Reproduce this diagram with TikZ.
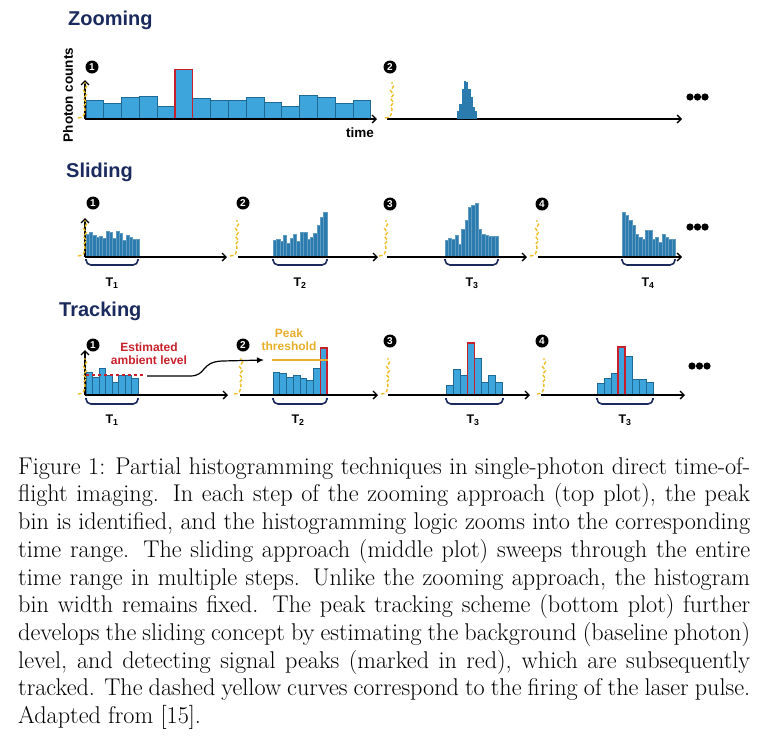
\documentclass[tikz,border=0pt]{standalone}
\usepackage{fontspec}
\newfontfamily\arialfont{Liberation Sans}
\usepackage{tikz}
\usetikzlibrary{arrows.meta}
\usetikzlibrary{decorations.pathmorphing}

\definecolor{navy}{HTML}{1B2A5E}
\definecolor{barblue}{HTML}{3DA5DB}
\definecolor{baredge}{HTML}{1F6A94}
\definecolor{histblue}{HTML}{2B7BAE}
\definecolor{peakred}{HTML}{C8202A}
\definecolor{pulseyellow}{HTML}{F0BE28}
\definecolor{threshyellow}{HTML}{E6AE2A}

% laser pulse: x position, baseline
\newcommand{\laser}[2]{%
  \draw[pulse] (#1-7,#2) .. controls (#1-2,#2) and (#1,#2-3) .. (#1,#2-9)
    decorate[decoration={snake,amplitude=1.5pt,segment length=8pt}] {-- (#1,#2-36)};}

\begin{document}
\begin{tikzpicture}[x=1pt,y=-1pt,
  >={Straight Barb[length=4pt,width=8pt]},
  axis/.style={line width=1.3pt,->},
  bar/.style={fill=barblue,draw=baredge,line width=0.9pt},
  redbar/.style={draw=peakred,line width=1.3pt},
  slidebar/.style={fill=histblue,draw=histblue!75!white,line width=0.3pt},
  pulse/.style={draw=pulseyellow,line width=1.4pt,dash pattern=on 3.5pt off 2pt},
  numdot/.style={circle,fill=black,text=white,inner sep=0pt,minimum size=13pt,
    font=\arialfont\bfseries\fontsize{10}{10}\selectfont},
  title/.style={anchor=west,inner sep=0pt,text=navy,
    font=\arialfont\bfseries\fontsize{20}{20}\selectfont},
  lbl/.style={inner sep=0pt,font=\arialfont\bfseries\fontsize{13.5}{13.5}\selectfont},
  tlbl/.style={inner sep=0pt,font=\arialfont\bfseries\fontsize{12.5}{12.5}\selectfont},
  note/.style={inner sep=0pt,align=center,font=\arialfont\bfseries\fontsize{12}{13}\selectfont},
  brace/.style={draw=navy,line width=1.6pt,rounded corners=5pt}
]
\useasboundingbox (0,0) rectangle (768,740);

%% Zooming
\node[title] (ztitle) at (68,20) {Zooming};
\node[numdot] (z1) at (92,67) {1};
\node[numdot] (z2) at (390,67) {2};
\node[lbl,rotate=90] (zcounts) at (68,95) {Photon counts};
\node[lbl] (ztime) at (360,133) {time};
\foreach \h [count=\i from 0] in {19,15.7,21.3,23,13,49.7,20.7,19,19,21.3,16.3,13,23.3,21.3,15.7,18.3}
  \draw[bar] (86+\i*17.8,119) rectangle ++(17.8,-\h);
\draw[redbar] (86+5*17.8,119) rectangle ++(17.8,-49.7);
\coordinate (zo) at (85,119);
\draw[axis] (zo) -- (377,119);
\draw[axis] (zo) -- (85,80);
\draw[axis] (387,119) -- (682,119);
\foreach \h [count=\i from 0] in {8,15,30,38,37,30,22,12,8}
  \fill[histblue] (457+\i*2.25,119) rectangle ++(2.3,-\h);
\laser{85}{118}
\laser{392}{118}
\foreach \x in {690,697.5,705} \fill (\x,97) circle (3.6);

%% Sliding
\node[title] (stitle) at (66,172) {Sliding};
\node[numdot] (s1) at (93,203) {1};
\node[numdot] (s2) at (243,203) {2};
\node[numdot] (s3) at (390,204) {3};
\node[numdot] (s4) at (542,204) {4};
\foreach \h [count=\i from 0] in {23,25,22,20,21,19,26,25,19,26,24,17,22,20,18,18}
  \draw[slidebar] (86+\i*3.31,257) rectangle ++(3.31,-\h);
\foreach \h [count=\i from 0] in {17,18,16,22,14,19,23,16,25,25,18,20,24,32,40,45}
  \draw[slidebar] (273+\i*3.37,257) rectangle ++(3.37,-\h);
\foreach \h [count=\i from 0] in {17,19,18,22,13,28,37,50,52,54,28,23,22,21,21,21}
  \draw[slidebar] (445+\i*3.31,257) rectangle ++(3.31,-\h);
\foreach \h [count=\i from 0] in {45,42,37,32,23,20,18,27,27,18,20,15,23,20,18,18}
  \draw[slidebar] (622+\i*3.31,257) rectangle ++(3.31,-\h);
\coordinate (so) at (85,257);
\draw[axis] (so) -- (227,257);
\draw[axis] (so) -- (85,218);
\draw[axis] (238,257) -- (378,257);
\draw[axis] (387,257) -- (527,257);
\draw[axis] (538,257) -- (682,257);
\laser{85}{256}
\laser{237}{256}
\laser{386}{256}
\laser{537}{256}
\foreach \a/\b in {86/138,273/327,445/498,622/675}
  \draw[brace] (\a,259) -- (\a,265) -- (\b,265) -- (\b,259);
\node[tlbl] (st1) at (112,283) {T\textsubscript{1}};
\node[tlbl] (st2) at (300,283) {T\textsubscript{2}};
\node[tlbl] (st3) at (472,283) {T\textsubscript{3}};
\node[tlbl] (st4) at (648,283) {T\textsubscript{4}};
\foreach \x in {690,697.5,705} \fill (\x,227) circle (3.6);

%% Tracking
\node[title] (ttitle) at (59,311) {Tracking};
\node[numdot] (t1) at (93,345) {1};
\node[numdot] (t2) at (243,345) {2};
\node[numdot] (t3) at (390,341) {3};
\node[numdot] (t4) at (542,341) {4};
\foreach \h [count=\i from 0] in {23,18,27,20,13,20,20,17}
  \draw[bar] (86+\i*6.5,395) rectangle ++(6.5,-\h);
\foreach \h [count=\i from 0] in {23,22,18,20,17,15,27,47}
  \draw[bar] (273+\i*6.75,395) rectangle ++(6.75,-\h);
\draw[redbar] (273+7*6.75,395) rectangle ++(6.75,-47);
\foreach \h [count=\i from 0] in {10,26,20,52,37,13,20,13}
  \draw[bar] (446+\i*7.1,395) rectangle ++(7.1,-\h);
\draw[redbar] (446+3*7.1,395) rectangle ++(7.1,-52);
\foreach \h [count=\i from 0] in {12,17,22,48,39,16,16,13}
  \draw[bar] (597+\i*7,395) rectangle ++(7,-\h);
\draw[redbar] (597+3*7,395) rectangle ++(7,-48);
\coordinate (to) at (85,395);
\draw[axis] (to) -- (228,395);
\draw[axis] (to) -- (85,350);
\draw[axis] (240,395) -- (378,395);
\draw[axis] (388,395) -- (530,395);
\draw[axis] (541,395) -- (685,395);
\laser{85}{394}
\laser{241}{394}
\laser{388}{394}
\laser{544}{394}
\draw[peakred,line width=1.5pt,dashed] (86,375) -- (145,375);
\node[note,text=peakred] (amb) at (149,353.5) {Estimated\\ambient level};
\coordinate (ambend) at (147,376);
\coordinate (thr) at (264,360);
\draw[line width=1.2pt,-{Latex[length=7pt,width=6pt]}] (ambend) -- (190,376)
  .. controls (207,376) and (200,362) .. (222,361) -- (thr);
\node[note,text=threshyellow] (pk) at (289,339.5) {Peak\\threshold};
\draw[threshyellow,line width=1.5pt] (272,360) -- (328,360);
\foreach \a/\b in {86/138,273/327,446/503,597/653}
  \draw[brace] (\a,398) -- (\a,404) -- (\b,404) -- (\b,398);
\node[tlbl] (tt1) at (112,420) {T\textsubscript{1}};
\node[tlbl] (tt2) at (298,420) {T\textsubscript{2}};
\node[tlbl] (tt3) at (473,420) {T\textsubscript{3}};
\node[tlbl] (tt4) at (625,420) {T\textsubscript{3}};
\foreach \x in {692,699.5,707} \fill (\x,366) circle (3.6);

%% caption
\node[anchor=north west,inner sep=0pt,text width=732pt,align=justify,
  font=\fontsize{24.2}{27.7}\selectfont] (cap) at (18,457) {%
Figure 1: Partial histogramming techniques in single-photon direct time-of-\linebreak
flight imaging. In each step of the zooming approach (top plot), the peak\linebreak
bin is identified, and the histogramming logic zooms into the corresponding\linebreak
time range. The sliding approach (middle plot) sweeps through the entire\linebreak
time range in multiple steps. Unlike the zooming approach, the histogram\linebreak
bin width remains fixed. The peak tracking scheme (bottom plot) further\linebreak
develops the sliding concept by estimating the background (baseline photon)\linebreak
level, and detecting signal peaks (marked in red), which are subsequently\linebreak
tracked. The dashed yellow curves correspond to the firing of the laser pulse.\linebreak
Adapted from [15].};
\end{tikzpicture}
\end{document}
